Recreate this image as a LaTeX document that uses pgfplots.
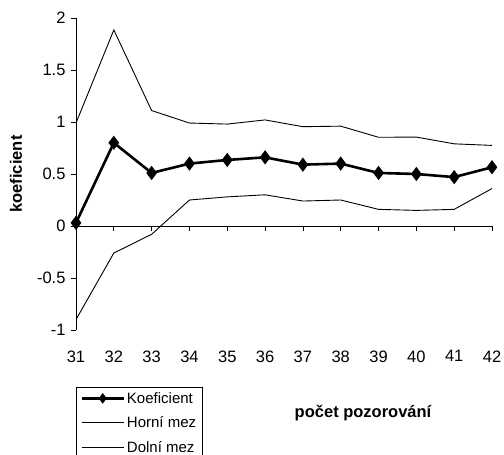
\documentclass[border=0pt]{standalone}
\usepackage{pgfplots}
\pgfplotsset{compat=1.18}
\usepackage{fontspec}
\setmainfont{Liberation Sans}
\begin{document}
\begin{tikzpicture}
\path[use as bounding box] (-76bp,-125bp) rectangle (428bp,330bp);
\begin{axis}[
  at={(0,0)}, anchor=south west,
  scale only axis, width=416bp, height=312bp,
  xmin=31, xmax=42, ymin=-1, ymax=2,
  axis x line=middle, axis y line=left,
  axis line style={-, line width=0.8bp},
  hide obscured x ticks=false,
  xtick={31,...,42}, ytick={-1,-0.5,0,0.5,1,1.5,2},
  yticklabels={-1,-0.5,0,0.5,1,1.5,2},
  tick align=outside, major tick length=5bp,
  tick style={black, line width=0.8bp},
  /pgf/number format/assume math mode=true,
  ticklabel style={font=\fontsize{16.5bp}{19bp}\selectfont},
  xticklabel style={anchor=north, yshift=-116bp},
  yticklabel style={anchor=east, xshift=-2bp},
  every axis y label/.style={at={(axis description cs:-0.144,0.5)}, anchor=center, rotate=90,
    font=\fontsize{16.5bp}{19bp}\selectfont\bfseries},
  every axis x label/.style={at={(axis description cs:0.69,-0.266)}, anchor=center,
    font=\fontsize{16.5bp}{19bp}\selectfont\bfseries},
  ylabel={koeficient},
  xlabel={počet pozorování},
  legend cell align=left,
  legend image code/.code={\draw[mark repeat=2,mark phase=2,#1, mark size=3.2bp] plot coordinates {(0bp,0bp) (21bp,0bp) (42bp,0bp)};},
  legend style={at={(axis description cs:0,-0.182)}, anchor=north west, draw=black, line width=0.8bp,
    font=\fontsize{15bp}{18bp}\selectfont, row sep=8bp, inner xsep=4bp, inner ysep=3bp},
]
\addplot[black, line width=2.6bp, mark=diamond*, mark size=5bp] coordinates {
 (31,0.03) (32,0.80) (33,0.51) (34,0.60) (35,0.635) (36,0.66) (37,0.59) (38,0.60) (39,0.51) (40,0.50) (41,0.47) (42,0.565)};
\addlegendentry{Koeficient}
\addplot[black, line width=0.9bp, mark=none] coordinates {
 (31,0.99) (32,1.885) (33,1.11) (34,0.99) (35,0.98) (36,1.02) (37,0.955) (38,0.96) (39,0.853) (40,0.855) (41,0.79) (42,0.775)};
\addlegendentry{Horní mez}
\addplot[black, line width=0.9bp, mark=none] coordinates {
 (31,-0.90) (32,-0.26) (33,-0.08) (34,0.25) (35,0.28) (36,0.30) (37,0.24) (38,0.25) (39,0.16) (40,0.15) (41,0.16) (42,0.36)};
\addlegendentry{Dolní mez}
\end{axis}
\end{tikzpicture}
\end{document}
